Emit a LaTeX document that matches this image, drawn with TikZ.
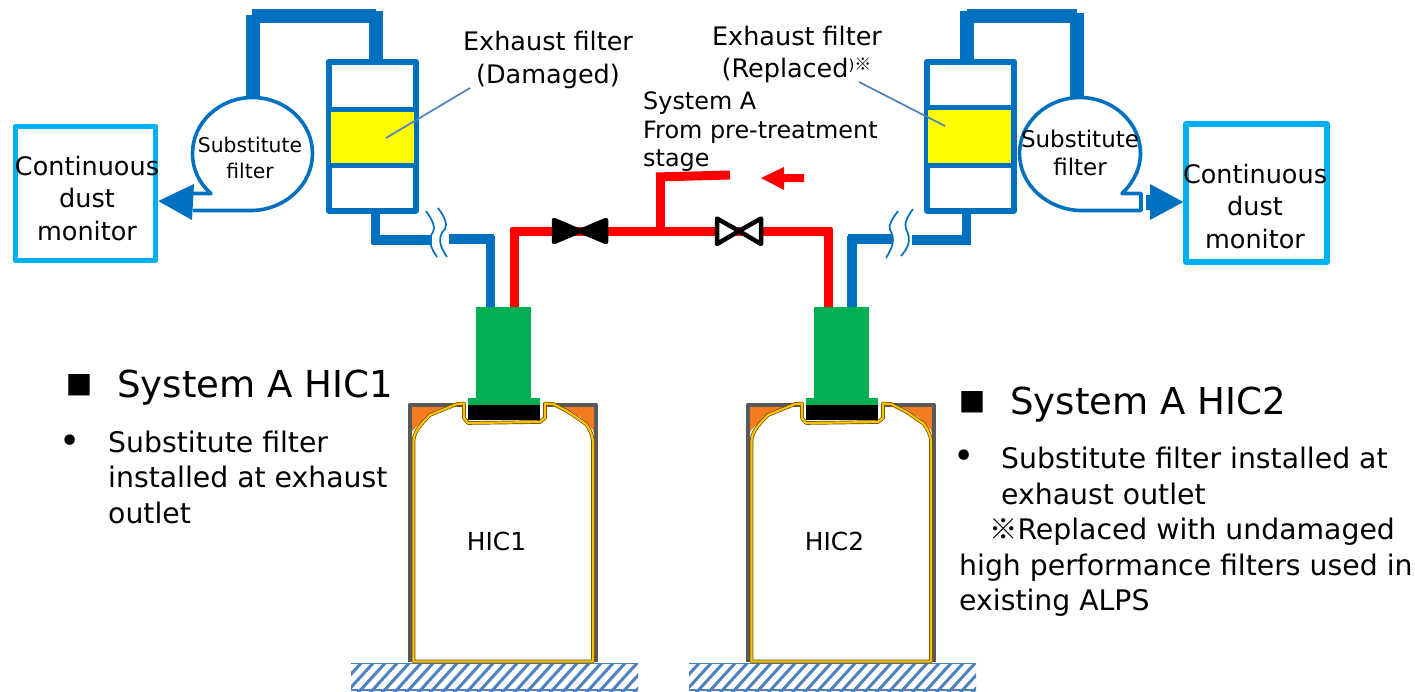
\documentclass[tikz,border=0pt]{standalone}
\usepackage{fontspec}
\setmainfont{DejaVu Sans}
\newfontfamily\cjk{Noto Sans CJK JP}
\usepackage{tikz}
\usetikzlibrary{calc}
\definecolor{duct}{HTML}{0070C0}
\definecolor{sky}{HTML}{00B0F0}
\definecolor{leader}{HTML}{4F81BD}
\definecolor{vessel}{HTML}{00B050}
\definecolor{rim}{HTML}{F47B20}
\definecolor{gold}{HTML}{FFC000}
\definecolor{pureyellow}{HTML}{FFFF00}
\definecolor{purered}{HTML}{FF0000}
\tikzset{l/.style={font=\fontsize{25.5}{32.5}\selectfont, align=center, inner sep=0pt}}
\tikzset{m/.style={font=\fontsize{23.9}{28.5}\selectfont, align=left, inner sep=0pt}}
\tikzset{b/.style={font=\fontsize{28.3}{35.5}\selectfont, align=left, inner sep=0pt}}
\tikzset{h/.style={font=\fontsize{37.1}{40}\selectfont, inner sep=0pt}}
\tikzset{thick duct/.style={duct, line width=14pt}}
\tikzset{thin duct/.style={duct, line width=9.5pt}}
\tikzset{red pipe/.style={purered, line width=9pt}}
\tikzset{fan/.style={duct, line width=3.6pt, line join=round}}
\tikzset{cut/.style={duct, line width=1.7pt}}
\tikzset{note/.style={leader, line width=1.7pt}}
\tikzset{valve/.style={black, line width=4.5pt, line join=round}}
\tikzset{monitor/.style={l, draw=sky, line width=5.5pt, line join=round, minimum width=140pt}}
\tikzset{filter/.style={draw=duct, line width=6pt, line join=round, minimum width=87pt, minimum height=149pt, inner sep=0pt}}
\tikzset{media/.style={fill=pureyellow, minimum width=83pt, inner sep=0pt}}
\begin{document}
\begin{tikzpicture}[x=1pt, y=-1pt, line join=miter]
            \useasboundingbox (0,0) rectangle (1415,691);

            % left train
            \node [filter] (FL) at (372,136) {};
            \node [media, minimum height=54pt] (YL) at (372,137.5) {};
            \coordinate (FLa) at (328.5,109);
            \coordinate (FLb) at (415.5,109);
            \coordinate (FLc) at (328.5,165.5);
            \coordinate (FLd) at (415.5,165.5);
            \draw [duct, line width=5pt] (FLa) -- (FLb) (FLc) -- (FLd);

            \coordinate (A) at (252.5,97);
            \coordinate (B) at (252.5,15);
            \coordinate (C) at (252,15.5);
            \coordinate (D) at (376,15.5);
            \coordinate (E) at (375.5,11);
            \coordinate (F) at (375.5,60);
            \draw [thick duct] (A) -- (B);
            \draw [thick duct] (C) -- (D);
            \draw [thick duct] (E) -- (F);

            \draw [fan, fill=white] (193,193.5) -- (211,193.5)
              .. controls (198,182) and (192.5,168) .. (192.5,153.5)
              .. controls (192.5,122.5) and (219.4,97.5) .. (252.5,97.5)
              .. controls (285.6,97.5) and (312.5,122.5) .. (312.5,153.5)
              .. controls (312.5,184.5) and (285.6,209.5) .. (252.5,210.5)
              -- (193,210.5);
            \node (SL) at (250,158) [align=center, inner sep=0pt, font=\fontsize{20.3}{26}\selectfont] {Substitute\\filter};

            \node [monitor, minimum height=134pt] (ML) at (85.5,193.5) {};
            \node [l] (TL) at (87,198) {Continuous\\dust\\monitor};
            \fill [duct] (ML.east |- 0,201) -- (194,184) -- (192,220) -- cycle;

            \coordinate (G) at (375.5,213);
            \coordinate (H) at (375.5,244);
            \coordinate (I) at (372,240);
            \coordinate (J) at (432,240);
            \coordinate (K) at (449,239);
            \coordinate (L) at (494,239);
            \coordinate (N) at (490.5,236);
            \coordinate (O) at (490.5,307);
            \draw [thin duct] (G) -- (H);
            \draw [thin duct] (I) -- (J);
            \draw [thin duct] (K) -- (L);
            \draw [thin duct] (N) -- (O);
            \draw [cut] (426,211) .. controls (432,219) and (436,228) .. (433,232) .. controls (427,240) and (431,248) .. (437,257);
            \draw [cut] (438,208) .. controls (444,216) and (448,224) .. (445,229) .. controls (436,238) and (441,248) .. (447,257);

            % right train
            \node [filter] (FR) at (970.5,136) {};
            \node [media, minimum height=54pt] (YR) at (969.5,136.5) {};
            \coordinate (FRa) at (926.5,107.5);
            \coordinate (FRb) at (1014.5,107.5);
            \coordinate (FRc) at (926.5,165);
            \coordinate (FRd) at (1014.5,165);
            \draw [duct, line width=5pt] (FRa) -- (FRb) (FRc) -- (FRd);

            \coordinate (P) at (1076.5,97);
            \coordinate (Q) at (1076.5,13);
            \coordinate (R) at (967,15.5);
            \coordinate (S) at (1077,15.5);
            \coordinate (T) at (966.5,11);
            \coordinate (U) at (966.5,60);
            \draw [thick duct] (P) -- (Q);
            \draw [thick duct] (R) -- (S);
            \draw [thick duct] (T) -- (U);

            \draw [fan, fill=white] (1141,193.5) -- (1122,193.5)
              .. controls (1134,182) and (1140.5,168) .. (1140.5,153.5)
              .. controls (1140.5,122.5) and (1113,97.5) .. (1080,97.5)
              .. controls (1047,97.5) and (1019.5,122.5) .. (1019.5,153.5)
              .. controls (1019.5,184.5) and (1047,209.5) .. (1080,210.5)
              -- (1141,210.5) -- cycle;
            \node (SR) at (1080,153) [align=center, inner sep=0pt, font=\fontsize{23}{28}\selectfont] {Substitute\\filter};

            \node [monitor, minimum width=141pt, minimum height=138pt] (MR) at (1256.5,193) {};
            \node [l] (TR) at (1255,206) {Continuous\\dust\\monitor};
            \fill [duct] (MR.west |- 0,202) -- (1150,220) -- (1150,210) -- (1146,210) -- (1146,195) -- (1150,195) -- (1150,184) -- cycle;

            \coordinate (V) at (966.5,213);
            \coordinate (W) at (966.5,244);
            \coordinate (X) at (970.5,240);
            \coordinate (Y) at (912,240);
            \coordinate (Z) at (893,239);
            \coordinate (AA) at (848,239);
            \coordinate (AB) at (852,236);
            \coordinate (AC) at (852,307);
            \draw [thin duct] (V) -- (W);
            \draw [thin duct] (X) -- (Y);
            \draw [thin duct] (Z) -- (AA);
            \draw [thin duct] (AB) -- (AC);
            \draw [cut] (898,211) .. controls (892,219) and (888,226) .. (890,230) .. controls (896,240) and (892,248) .. (886,258);
            \draw [cut] (913,209) .. controls (907,217) and (904,224) .. (906,229) .. controls (912,240) and (908,248) .. (901,256);

            % red line
            \coordinate (R1) at (514.5,307);
            \coordinate (R2) at (514.5,228);
            \coordinate (R3) at (511,231);
            \coordinate (R4) at (832,231);
            \coordinate (R5) at (828,228);
            \coordinate (R6) at (828,307);
            \coordinate (R7) at (660,231);
            \coordinate (R8) at (660,176);
            \coordinate (R9) at (656,177);
            \coordinate (R10) at (730,175);
            \draw [red pipe] (R1) -- (R2);
            \draw [red pipe] (R3) -- (R4);
            \draw [red pipe] (R5) -- (R6);
            \draw [red pipe] (R7) -- (R8);
            \draw [red pipe] (R9) -- (R10);
            \fill [purered] (761,178) -- (784,167) -- (784,174) -- (804,174) -- (804,182) -- (784,182) -- (784,190) -- cycle;

            \draw [valve, fill=black] (554,220) -- (606,242) -- (606,220) -- (554,242) -- cycle;
            \draw [valve, fill=white] (717,218.5) -- (739,231) -- (717,244) -- cycle;
            \draw [valve, fill=white] (761,218.5) -- (739,231) -- (761,244) -- cycle;

            % containers
            \foreach \hx/\hic in {0/HIC1, 338/HIC2} {
              \begin{scope}[xshift=\hx pt]
                \begin{scope}
                  \clip (351,663) rectangle (638,691);
                  \foreach \i in {0,12,...,324}
                    \draw [leader, line width=3pt] (320+\i,695) -- (352+\i,660);
                  \draw [leader, line width=1.8pt] (351,663.5) -- (638,663.5) (351,690) -- (638,690);
                \end{scope}
                \fill [rim] (411,407) -- (447,407) -- (430,414) -- (413,430) -- (411,434) -- cycle;
                \fill [rim] (594,407) -- (561,407) -- (580,417) -- (593,430) -- (594,434) -- cycle;
                \draw [black!65, line width=4pt, line join=round] (410,662) -- (410,404.5) -- (465,404.5);
                \draw [black!65, line width=4pt, line join=round] (595.5,662) -- (595.5,404.5) -- (543,404.5);
                \fill [black] (468,404) rectangle (540,420);
                \draw [draw=black!60!gold, double=gold, double distance=2.2pt, line width=.7pt, line join=round]
                  (413.5,661.5) -- (413.5,442) .. controls (413.5,433) and (419,426) .. (430,415)
                  -- (457,404) -- (464,403.5) -- (464,418) -- (468,423) -- (540,422) -- (545,418) -- (545,403.5)
                  -- (553,404) -- (567,411) -- (586,424) .. controls (590,430) and (593,436) .. (593,442)
                  -- (593,661.5) -- cycle;
                \fill [vessel] (476,307) rectangle (531,399);
                \fill [vessel] (468,398) rectangle (540,404.5);
                \node (\hic) at (496.5,541) [font=\fontsize{24.8}{25}\selectfont, inner sep=0pt] {\hic};
              \end{scope}
            }

            % labels
            \coordinate (N1) at (470,88);
            \coordinate (N2) at (386,138);
            \coordinate (N3) at (859,82);
            \coordinate (N4) at (945,126);
            \draw [note] (N1) -- (N2);
            \draw [note] (N3) -- (N4);
            \node [l] (DF) at (548,60) {Exhaust filter\\(Damaged)};
            \node [l] (RF) at (797,54.5) {Exhaust filter\\\hspace{-1pt}(Replaced{\raisebox{7pt}{\fontsize{15}{15}\selectfont )\cjk\fontsize{17}{17}\selectfont ※}}\hspace{-10pt}};
            \node [m, anchor=west] (FS) at (643,132) {System A\\From pre-treatment\\stage};

            \node [h, anchor=west] (HA) at (117,388) {System A HIC1};
            \node (SA) at (79,385) [inner sep=0pt, font=\fontsize{28}{28}\selectfont] {■};
            \node (BA) at (70,444) [inner sep=0pt, font=\fontsize{36}{36}\selectfont] {•};
            \node [b, anchor=west] (TA) at (108,477) {Substitute filter\\installed at exhaust\\outlet};

            \node [h, anchor=west] (HB) at (1010,405) {System A HIC2};
            \node (SB) at (972,402) [inner sep=0pt, font=\fontsize{28}{28}\selectfont] {■};
            \node (BB) at (964,459) [inner sep=0pt, font=\fontsize{36}{36}\selectfont] {•};
            \node [b, anchor=west] (TB) at (1001,476) {Substitute filter installed at\\exhaust outlet};
            \node [b, anchor=west] (TC) at (959,567.5) {\hspace{30pt}{\cjk ※}Replaced with undamaged\\high performance filters used in\\existing ALPS};
          \end{tikzpicture}
\end{document}
